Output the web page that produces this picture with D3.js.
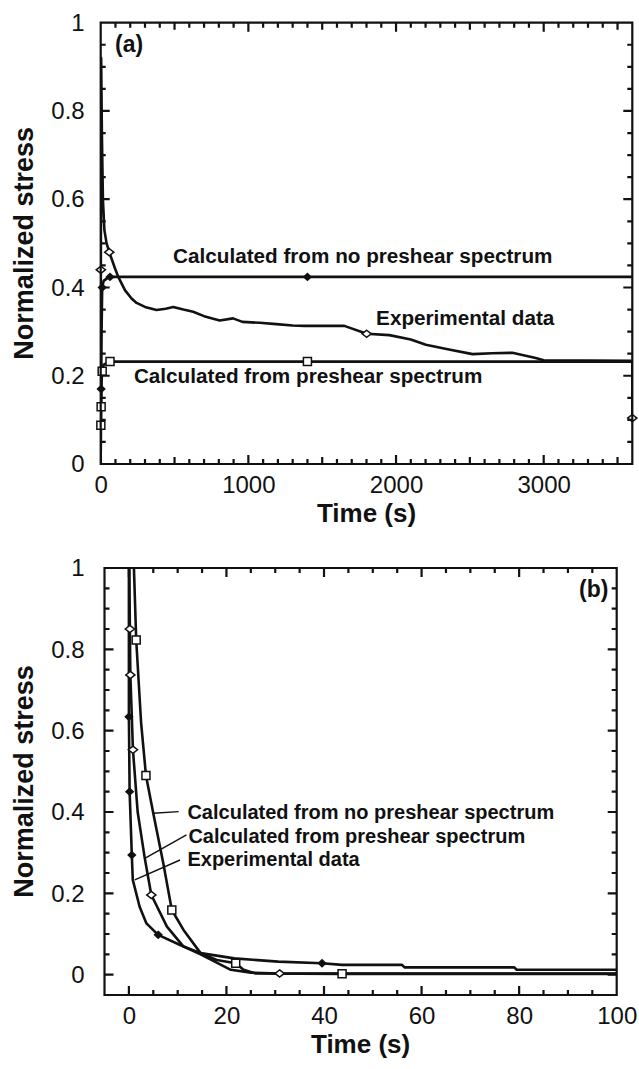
<!DOCTYPE html>
<html><head><meta charset="utf-8">
<script src="https://cdn.jsdelivr.net/npm/d3@7"></script>
<style>body{margin:0;background:#fff} svg{display:block}</style>
</head><body><svg id="c" width="639" height="1069"></svg>
<script>
// ---------- Panel (a): long-time data ----------
const aExpTime   = [0, 1, 3, 8, 15, 25, 40, 58, 97, 119, 164, 209, 243, 300, 378, 440, 491, 560, 626, 700, 806, 896, 960, 1076, 1189, 1300, 1380, 1650, 1801, 1955, 2100, 2202, 2350, 2518, 2650, 2788, 2946, 3000, 3600, 3600];
const aExpStress = [0, 0.44, 0.92, 0.75, 0.60, 0.53, 0.50, 0.48, 0.443, 0.424, 0.394, 0.375, 0.365, 0.356, 0.349, 0.352, 0.356, 0.350, 0.345, 0.335, 0.325, 0.330, 0.322, 0.320, 0.317, 0.314, 0.313, 0.313, 0.295, 0.292, 0.282, 0.270, 0.260, 0.249, 0.251, 0.252, 0.240, 0.235, 0.234, 0.104];
const aExpMarkTime   = [1, 58, 1801, 3600];
const aExpMarkStress = [0.44, 0.48, 0.295, 0.104];

const aNoPreTime   = [0, 1, 3, 6, 10, 20, 40, 63, 1400, 3600];
const aNoPreStress = [0, 0.08, 0.17, 0.30, 0.40, 0.415, 0.42, 0.424, 0.424, 0.424];
const aNoPreMarkTime   = [3, 10, 63, 1400];
const aNoPreMarkStress = [0.17, 0.40, 0.424, 0.424];

const aPreTime   = [0, 1, 3, 6, 10, 20, 63, 1400, 3600];
const aPreStress = [0, 0.088, 0.13, 0.19, 0.21, 0.225, 0.232, 0.232, 0.232];
const aPreMarkTime   = [1, 3, 10, 63, 1400];
const aPreMarkStress = [0.088, 0.13, 0.21, 0.232, 0.232];

const aXTicks = [0, 1000, 2000, 3000];
const aXTickLabels = ["0", "1000", "2000", "3000"];
const aYTicks = [0, 0.2, 0.4, 0.6, 0.8, 1];
const aYTickLabels = ["0", "0.2", "0.4", "0.6", "0.8", "1"];
const aLabels = ["Calculated from no preshear spectrum", "Experimental data", "Calculated from preshear spectrum"];

// ---------- Panel (b): short-time data ----------
const bExpTime   = [0, 0, 0.15, 0.6, 0.8, 2.2, 3.6, 6, 10.5, 14.7, 21.6, 30.6, 39.6, 43.7, 56, 56.5, 79, 79.5, 100];
const bExpStress = [1.0, 0.634, 0.45, 0.294, 0.233, 0.167, 0.126, 0.098, 0.073, 0.053, 0.040, 0.032, 0.028, 0.024, 0.024, 0.018, 0.018, 0.012, 0.012];
const bExpMarkTime   = [0, 0.15, 0.6, 6, 39.6];
const bExpMarkStress = [0.634, 0.45, 0.294, 0.098, 0.028];

const bPreTime   = [0.1, 0.2, 0.3, 0.83, 1.8, 3.26, 4.6, 7.8, 11.2, 14.7, 20.9, 25, 30.9, 100];
const bPreStress = [1.0, 0.85, 0.737, 0.553, 0.40, 0.286, 0.196, 0.118, 0.069, 0.05, 0.012, 0.005, 0.003, 0.003];
const bPreMarkTime   = [0.2, 0.3, 0.83, 4.6, 30.9];
const bPreMarkStress = [0.85, 0.737, 0.553, 0.196, 0.003];

const bNoPreTime   = [0.9, 1.5, 2.5, 3.5, 5.0, 7.05, 8.8, 11.2, 14.7, 18, 21.9, 23.5, 26, 43.7, 100];
const bNoPreStress = [1.05, 0.823, 0.62, 0.49, 0.397, 0.274, 0.159, 0.11, 0.053, 0.036, 0.028, 0.012, 0.003, 0.002, 0.002];
const bNoPreMarkTime   = [1.5, 3.5, 8.8, 21.9, 43.7];
const bNoPreMarkStress = [0.823, 0.49, 0.159, 0.028, 0.002];

const bXTicks = [0, 20, 40, 60, 80, 100];
const bXTickLabels = ["0", "20", "40", "60", "80", "100"];
const bYTicks = [0, 0.2, 0.4, 0.6, 0.8, 1];
const bYTickLabels = ["0", "0.2", "0.4", "0.6", "0.8", "1"];
const bLabels = ["Calculated from no preshear spectrum", "Calculated from preshear spectrum", "Experimental data"];

const xTitle = "Time (s)";
const yTitle = "Normalized stress";

// ---------- drawing ----------
const svg = d3.select("#c");
const FONT = "'Liberation Sans', Arial, Helvetica, sans-serif";
const INK = "#111";

const markerPaths = {
  diamondOpen:  "M0,-3.6L4.6,0L0,3.6L-4.6,0Z",
  diamondFill:  "M0,-3.4L3.6,0L0,3.4L-3.6,0Z",
  square:       "M-4,-4H4V4H-4Z"
};

const tickJobs = [];

function drawPanel(p) {
  const x = d3.scaleLinear().domain(p.xDomain).range([p.left, p.right]);
  const y = d3.scaleLinear().domain(p.yDomain).range([p.bottom, p.top]);
  const g = svg.append("g");
  const clipId = "clip-" + p.id;
  svg.append("defs").append("clipPath").attr("id", clipId).append("rect")
    .attr("x", p.left).attr("y", p.top)
    .attr("width", p.right - p.left).attr("height", p.bottom - p.top);

  // tick labels
  const xl = g.append("g").attr("transform", `translate(0,${p.bottom})`)
    .call(d3.axisBottom(x).tickValues(p.xTicks).tickSize(0).tickPadding(12)
      .tickFormat((d, i) => p.xTickLabels[i]));
  xl.select(".domain").remove();
  xl.selectAll("text").attr("font-family", FONT).attr("font-size", 24).attr("fill", INK);
  const yl = g.append("g").attr("transform", `translate(${p.left},0)`)
    .call(d3.axisLeft(y).tickValues(p.yTicks).tickSize(0).tickPadding(p.yPad)
      .tickFormat((d, i) => p.yTickLabels[i]));
  yl.select(".domain").remove();
  yl.selectAll("text").attr("font-family", FONT).attr("font-size", 24).attr("fill", INK);

  // series
  const line = d3.line().x(d => x(d[0])).y(d => y(d[1]));
  p.series.forEach(s => {
    g.append("path").datum(d3.zip(s.t, s.v)).attr("d", line)
      .attr("fill", "none").attr("stroke", INK).attr("stroke-width", 2.6)
      .attr("stroke-linejoin", "round").attr("clip-path", `url(#${clipId})`);
  });
  p.series.forEach(s => {
    g.append("g").selectAll("path").data(d3.zip(s.mt, s.mv)).join("path")
      .attr("transform", d => `translate(${x(d[0])},${y(d[1])})`)
      .attr("d", markerPaths[s.marker])
      .attr("fill", s.marker === "diamondFill" ? INK : "#fff")
      .attr("stroke", INK).attr("stroke-width", 1.5);
  });

  // leaders
  (p.leaders || []).forEach(l => {
    g.append("line").attr("x1", x(l[0])).attr("y1", y(l[1])).attr("x2", x(l[2])).attr("y2", y(l[3]))
      .attr("stroke", INK).attr("stroke-width", 1.4);
  });

  // annotations
  p.notes.forEach(n => {
    g.append("text").attr("x", x(n.t)).attr("y", y(n.v)).text(n.text)
      .attr("font-family", FONT).attr("font-weight", "bold").attr("font-size", n.size)
      .attr("text-anchor", n.anchor || "start").attr("fill", INK);
  });

  // axis titles
  g.append("text").attr("x", (p.left + p.right) / 2).attr("y", p.bottom + 58)
    .attr("text-anchor", "middle").attr("font-family", FONT).attr("font-weight", "bold")
    .attr("font-size", 26).attr("fill", INK).text(xTitle);
  g.append("text").attr("transform", `translate(33,${(p.top + p.bottom) / 2}) rotate(-90)`)
    .attr("text-anchor", "middle").attr("font-family", FONT).attr("font-weight", "bold")
    .attr("font-size", 27).attr("fill", INK).text(yTitle);

  tickJobs.push({p, x, y});
}

drawPanel({
  id: "a", left: 100.7, right: 632.3, top: 22.7, bottom: 464, yPad: 16,
  xDomain: [0, 3600], yDomain: [0, 1],
  xLevels: [[d3.range(0, 3601, 100), 5], [d3.range(500, 3601, 1000), 7], [aXTicks, 9]],
  yLevels: [[d3.range(0, 1.001, 0.05), 5], [aYTicks, 9]],
  xTicks: aXTicks, xTickLabels: aXTickLabels, yTicks: aYTicks, yTickLabels: aYTickLabels,
  series: [
    {t: aExpTime, v: aExpStress, mt: aExpMarkTime, mv: aExpMarkStress, marker: "diamondOpen"},
    {t: aNoPreTime, v: aNoPreStress, mt: aNoPreMarkTime, mv: aNoPreMarkStress, marker: "diamondFill"},
    {t: aPreTime, v: aPreStress, mt: aPreMarkTime, mv: aPreMarkStress, marker: "square"}
  ],
  notes: [
    {text: aLabels[0], t: 490, v: 0.455, size: 20.7},
    {text: aLabels[1], t: 1865, v: 0.315, size: 20.7},
    {text: aLabels[2], t: 225, v: 0.1835, size: 20.7},
    {text: "(a)", t: 97, v: 0.9336, size: 23}
  ]
});

drawPanel({
  id: "b", left: 104.5, right: 616.7, top: 568, bottom: 995, yPad: 20,
  xDomain: [-5, 100], yDomain: [-0.05, 1],
  xLevels: [[d3.range(0, 101, 5), 5], [bXTicks, 9]],
  yLevels: [[d3.range(0, 1.001, 0.05), 5], [bYTicks, 9]],
  xTicks: bXTicks, xTickLabels: bXTickLabels, yTicks: bYTicks, yTickLabels: bYTickLabels,
  series: [
    {t: bExpTime, v: bExpStress, mt: bExpMarkTime, mv: bExpMarkStress, marker: "diamondFill"},
    {t: bPreTime, v: bPreStress, mt: bPreMarkTime, mv: bPreMarkStress, marker: "diamondOpen"},
    {t: bNoPreTime, v: bNoPreStress, mt: bNoPreMarkTime, mv: bNoPreMarkStress, marker: "square"}
  ],
  leaders: [[10.2, 0.401, 5.0, 0.397], [11.8, 0.344, 3.26, 0.286], [10.5, 0.282, 1.2, 0.233]],
  notes: [
    {text: bLabels[0], t: 12.0, v: 0.383, size: 20},
    {text: bLabels[1], t: 12.2, v: 0.324, size: 20},
    {text: bLabels[2], t: 12.0, v: 0.266, size: 20},
    {text: "(b)", t: 98.3, v: 0.928, size: 23, anchor: "end"}
  ]
});

// frames and inward ticks on all four sides, built as one path per panel from the scales
tickJobs.forEach(({p, x, y}) => {
  const path = d3.path();
  path.rect(p.left, p.top, p.right - p.left, p.bottom - p.top);
  p.xLevels.forEach(([vals, len]) => {
    vals.forEach(d => {
      const px = x(d);
      path.moveTo(px, p.bottom); path.lineTo(px, p.bottom - len);
      path.moveTo(px, p.top); path.lineTo(px, p.top + len);
    });
  });
  p.yLevels.forEach(([vals, len]) => {
    vals.forEach(d => {
      const py = y(d);
      path.moveTo(p.left, py); path.lineTo(p.left + len, py);
      path.moveTo(p.right, py); path.lineTo(p.right - len, py);
    });
  });
  svg.append("path").attr("d", path.toString())
    .attr("fill", "none").attr("stroke", INK).attr("stroke-width", 2.2);
});
</script>
</body></html>
